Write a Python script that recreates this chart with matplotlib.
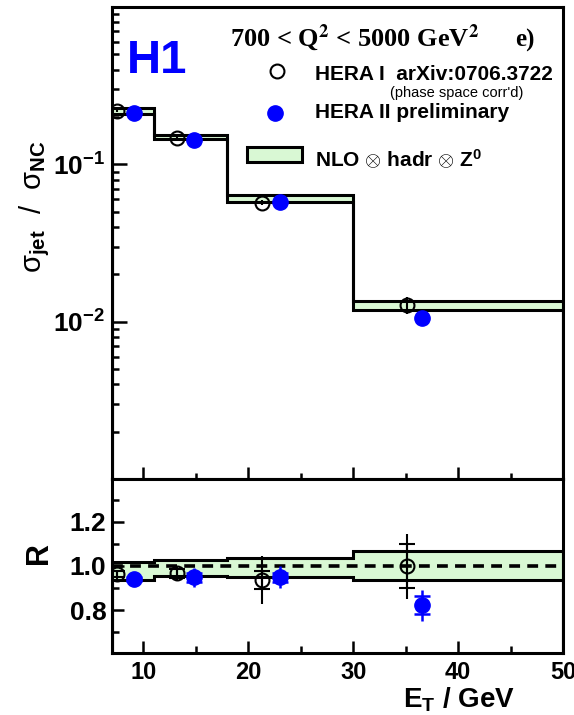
import numpy as np
import matplotlib
matplotlib.use('Agg')
import matplotlib.pyplot as plt
from matplotlib.patches import Rectangle
from matplotlib.ticker import FixedLocator, LogLocator, NullFormatter, MultipleLocator

plt.rcParams['font.family'] = ['Liberation Sans', 'DejaVu Sans']
plt.rcParams['mathtext.fontset'] = 'custom'
plt.rcParams['mathtext.rm'] = 'Liberation Sans'
plt.rcParams['mathtext.bf'] = 'Liberation Sans:bold'
plt.rcParams['mathtext.it'] = 'Liberation Sans:italic'
plt.rcParams['mathtext.sf'] = 'Liberation Sans'

# E_T bin edges (GeV)
edges = [7, 11, 18, 30, 50]

# NLO x hadr x Z0 band, sigma_jet / sigma_NC
nlo_lo = [0.2097, 0.1456, 0.0577, 0.01186]
nlo_hi = [0.2275, 0.1540, 0.0636, 0.01359]

# HERA I (open) and HERA II (filled) points
hera1_x = [7.44, 13.2, 21.33, 35.1]
hera1_y = [0.217, 0.147, 0.0569, 0.01277]
hera1_err = [0.003, 0.003, 0.002, 0.0016]
hera2_x = [9.12, 14.78, 23.0, 36.6]
hera2_y = [0.212, 0.142, 0.058, 0.0105]
hera2_err = [0.003, 0.003, 0.002, 0.0006]

# ratio panel R = data / NLO
r_lo = [0.938, 0.954, 0.948, 0.936]
r_hi = [1.016, 1.026, 1.038, 1.068]
hera1_r = [0.963, 0.966, 0.936, 0.999]
hera1_r_stat = [0.015, 0.02, 0.042, 0.10]
hera1_r_tot = [0.02, 0.035, 0.108, 0.147]
hera2_r = [0.94, 0.948, 0.948, 0.822]
hera2_r_stat = [0.01, 0.02, 0.02, 0.04]
hera2_r_tot = [0.02, 0.045, 0.05, 0.07]

green = '#d9f8d4'
blue = '#0000ff'
lw = 2.2

fig = plt.figure(figsize=(5.74, 7.15), dpi=100)
ax1 = fig.add_axes([0.1951, 0.3301, 0.7857, 0.6601])
ax2 = fig.add_axes([0.1951, 0.0867, 0.7857, 0.2434])

# ---- top panel
ax1.stairs(nlo_hi, edges, baseline=nlo_lo, fill=True, color=green)
ax1.stairs(nlo_hi, edges, color='k', lw=lw)
ax1.stairs(nlo_lo, edges, color='k', lw=lw)

ax1.errorbar(hera1_x, hera1_y, yerr=hera1_err, fmt='o', ms=10, mfc='none', mec='k',
             mew=1.5, ecolor='k', elinewidth=1.5, capsize=0, zorder=5)
ax1.errorbar(hera2_x, hera2_y, yerr=hera2_err, fmt='o', ms=11, mfc=blue, mec=blue,
             ecolor=blue, elinewidth=1.5, capsize=0, zorder=6)

ax1.set_yscale('log')
ax1.set_xlim(7, 50)
ax1.set_ylim(1e-3, 1)
ax1.yaxis.set_major_locator(FixedLocator([1e-2, 1e-1]))
ax1.set_yticklabels([r'$\mathbf{10^{-2}}$', r'$\mathbf{10^{-1}}$'])
ax1.yaxis.set_minor_locator(LogLocator(base=10, subs=np.arange(2, 10)))
ax1.yaxis.set_minor_formatter(NullFormatter())
ax1.tick_params(axis='y', which='major', length=11, width=1.8, direction='in',
                labelsize=19, pad=5)
ax1.tick_params(axis='y', which='minor', length=5, width=1.8, direction='in')
ax1.xaxis.set_major_locator(MultipleLocator(10))
ax1.xaxis.set_minor_locator(MultipleLocator(5))
ax1.tick_params(axis='x', which='major', length=8.5, width=1.8, direction='in',
                labelbottom=False)
ax1.tick_params(axis='x', which='minor', length=4.5, width=1.8, direction='in')

# text and legend
ax1.text(0.033, 0.860, 'H1', transform=ax1.transAxes, color=blue, fontsize=34,
         fontweight='bold', ha='left', va='baseline')
ax1.text(0.262, 0.916, r'700 < Q$^{\mathbf{2}}$ < 5000 GeV$^{\mathbf{2}}$',
         transform=ax1.transAxes, family=['Liberation Serif', 'DejaVu Serif'],
         math_fontfamily='stix', fontweight='bold', fontsize=19,
         ha='left', va='baseline')
ax1.text(0.894, 0.916, 'e)', transform=ax1.transAxes,
         family=['Liberation Serif', 'DejaVu Serif'], fontweight='bold', fontsize=18,
         ha='left', va='baseline')
ax1.plot([0.366], [0.864], 'o', transform=ax1.transAxes, ms=10, mfc='none',
         mec='k', mew=1.5, clip_on=False)
ax1.text(0.450, 0.845, 'HERA I  arXiv:0706.3722', transform=ax1.transAxes,
         fontweight='bold', fontsize=15, ha='left', va='baseline')
ax1.text(0.616, 0.809, "(phase space corr'd)", transform=ax1.transAxes,
         fontsize=10.5, ha='left', va='baseline')
ax1.plot([0.361], [0.775], 'o', transform=ax1.transAxes, ms=11, mfc=blue,
         mec=blue, clip_on=False)
ax1.text(0.450, 0.765, 'HERA II preliminary', transform=ax1.transAxes,
         fontweight='bold', fontsize=15, ha='left', va='baseline')
ax1.add_patch(Rectangle((0.299, 0.672), 0.122, 0.031, transform=ax1.transAxes,
                        facecolor=green, edgecolor='k', lw=lw))
ax1.text(0.450, 0.661, r'NLO $\otimes$ hadr $\otimes$ Z$^{\mathbf{0}}$',
         transform=ax1.transAxes, fontweight='bold', fontsize=15, ha='left',
         va='baseline')

# ---- ratio panel
ax2.stairs(r_hi, edges, baseline=r_lo, fill=True, color=green)
ax2.stairs(r_hi, edges, color='k', lw=lw)
ax2.stairs(r_lo, edges, color='k', lw=lw)
ax2.axhline(1.0, color='k', lw=2.6, ls=(0, (3, 2)))

ax2.errorbar(hera1_x, hera1_r, yerr=hera1_r_tot, fmt='none', ecolor='k',
             elinewidth=1.5, capsize=0, zorder=5)
ax2.errorbar(hera1_x, hera1_r, yerr=hera1_r_stat, fmt='o', ms=10, mfc='none',
             mec='k', mew=1.5, ecolor='k', elinewidth=1.5, capsize=5.5,
             capthick=1.5, zorder=5)
ax2.errorbar(hera2_x, hera2_r, yerr=hera2_r_tot, fmt='none', ecolor=blue,
             elinewidth=1.8, capsize=0, zorder=6)
ax2.errorbar(hera2_x, hera2_r, yerr=hera2_r_stat, fmt='o', ms=11, mfc=blue,
             mec=blue, ecolor=blue, elinewidth=1.8, capsize=5.5, capthick=1.8,
             zorder=6)

ax2.set_xlim(7, 50)
ax2.set_ylim(0.605, 1.395)
ax2.yaxis.set_major_locator(FixedLocator([0.8, 1.0, 1.2]))
ax2.set_yticklabels(['0.8', '1.0', '1.2'])
ax2.yaxis.set_minor_locator(FixedLocator([0.7, 0.9, 1.1, 1.3]))
ax2.xaxis.set_major_locator(MultipleLocator(10))
ax2.xaxis.set_minor_locator(MultipleLocator(5))
ax2.tick_params(axis='both', which='major', length=8.5, width=1.8, direction='in')
ax2.tick_params(axis='both', which='minor', length=5, width=1.8, direction='in')
ax2.tick_params(axis='y', which='major', labelsize=19, pad=4)
ax2.tick_params(axis='x', which='major', labelsize=17, pad=6)
for lab in ax2.get_xticklabels() + ax2.get_yticklabels():
    lab.set_fontweight('bold')

for ax in (ax1, ax2):
    for s in ax.spines.values():
        s.set_linewidth(lw)

# axis titles
fig.text(35 / 574, 1 - 207 / 715,
         r'$\mathrm{\sigma}_{\mathbf{jet}}$  /  $\mathrm{\sigma}_{\mathbf{NC}}$',
         rotation=90, ha='center', va='center', fontsize=21)
fig.text(39 / 574, 1 - 553 / 715, 'R', rotation=90, ha='center', va='center',
         fontsize=22, fontweight='bold')
fig.text(403 / 574, 1 - 708 / 715, r'E$_{\mathbf{T}}$ / GeV', ha='left',
         va='baseline', fontsize=20, fontweight='bold')

fig.savefig('out.png', dpi=100)
